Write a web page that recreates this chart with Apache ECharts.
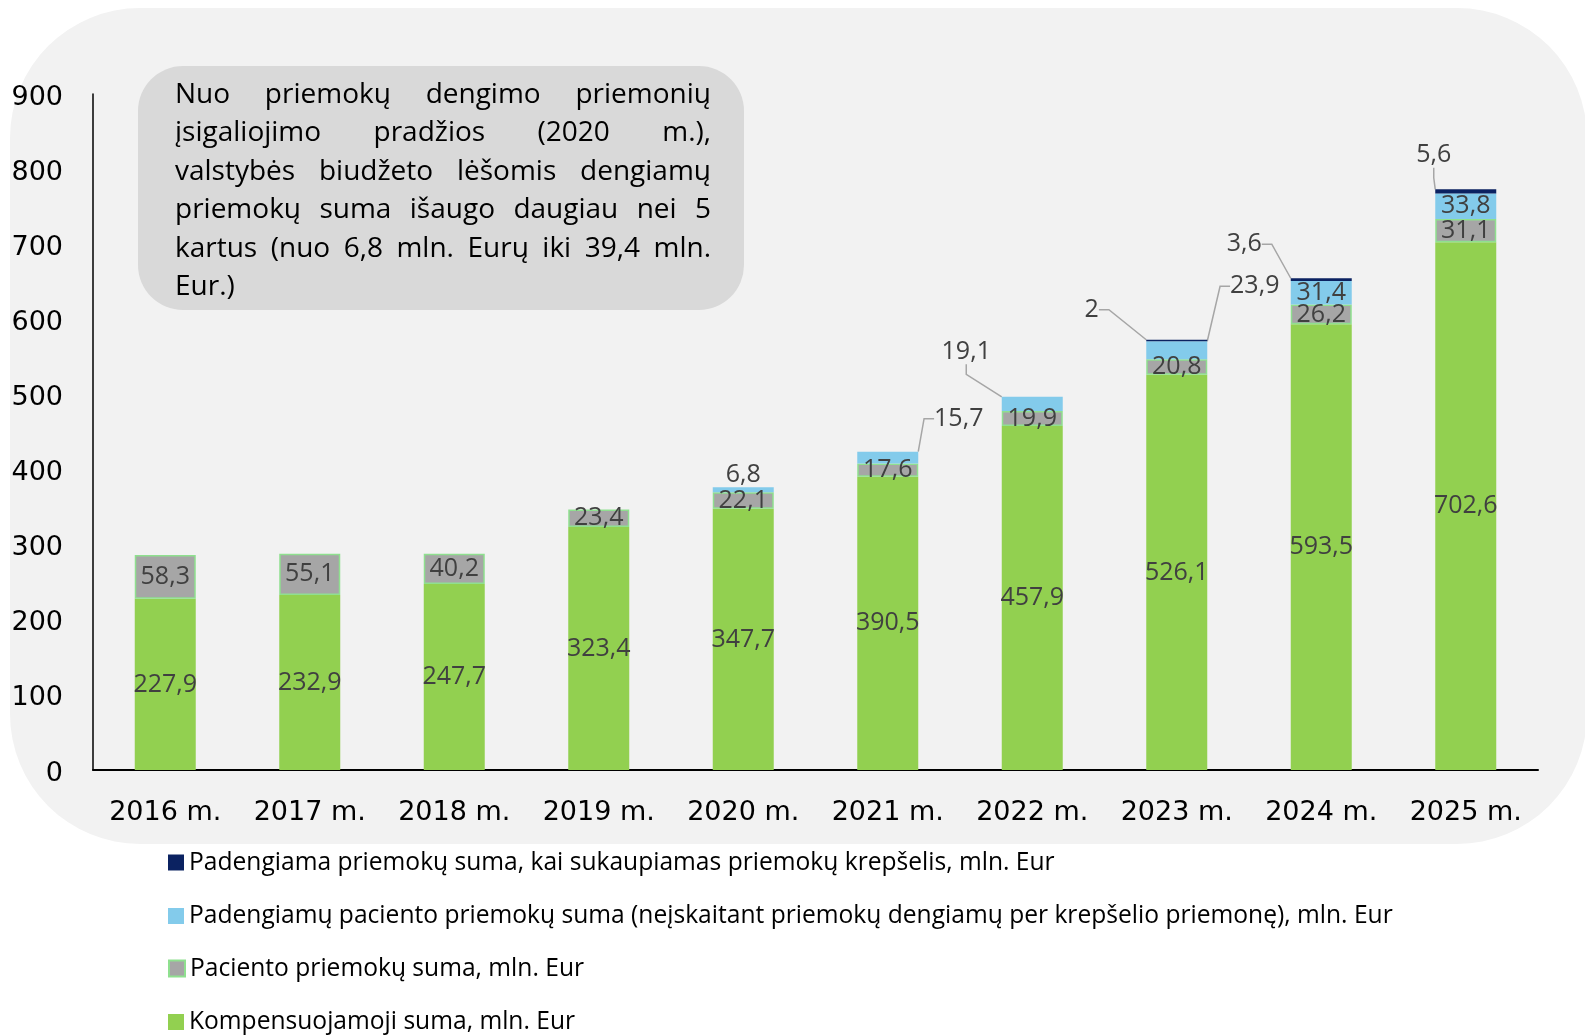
<!DOCTYPE html>
<html>
<head>
<meta charset="utf-8">
<script src="https://cdn.jsdelivr.net/npm/echarts@6/dist/echarts.min.js"></script>
<style>
html,body{margin:0;padding:0;background:#ffffff;}
#main{width:1585px;height:1035px;}
</style>
</head>
<body>
<div id="main"></div>
<script>
// ---------- data ----------
const categories = ['2016 m.', '2017 m.', '2018 m.', '2019 m.', '2020 m.', '2021 m.', '2022 m.', '2023 m.', '2024 m.', '2025 m.'];
const kompensuojamoji = [227.9, 232.9, 247.7, 323.4, 347.7, 390.5, 457.9, 526.1, 593.5, 702.6];
const pacientoPriemokos = [58.3, 55.1, 40.2, 23.4, 22.1, 17.6, 19.9, 20.8, 26.2, 31.1];
const padengiamosPriemokos = [null, null, null, null, 6.8, 15.7, 19.1, 23.9, 31.4, 33.8];
const krepselioPriemokos = [null, null, null, null, null, null, null, 2, 3.6, 5.6];
const yTickLabels = ['0', '100', '200', '300', '400', '500', '600', '700', '800', '900'];
const seriesNames = [
  'Kompensuojamoji suma, mln. Eur',
  'Paciento priemokų suma, mln. Eur',
  'Padengiamų paciento priemokų suma (neįskaitant priemokų dengiamų per krepšelio priemonę), mln. Eur',
  'Padengiama priemokų suma, kai sukaupiamas priemokų krepšelis, mln. Eur'
];
const noteLines = [
  'Nuo priemokų dengimo priemonių',
  'įsigaliojimo pradžios (2020 m.),',
  'valstybės biudžeto lėšomis dengiamų',
  'priemokų suma išaugo daugiau nei 5',
  'kartus (nuo 6,8 mln. Eurų iki 39,4 mln.',
  'Eur.)'
];

// ---------- style / layout ----------
const FONT = '"Open Sans", "Liberation Sans", sans-serif';
const AXISFONT = '"DejaVu Sans", "Open Sans", sans-serif';
const COLORS = ['#92D050', '#A6A6A6', '#83CBEB', '#0B2261'];
const labelColor = '#404040';
const fmt = v => String(v).replace('.', ',');

// label offsets (px) relative to the top-centre of the segment, for leader-line labels
const blueOffsets = {5: [71, -33], 6: [-66, -45], 7: [78, -55]};
const navyOffsets = {7: [-85, -30], 8: [-77, -34], 9: [-32, -34]};
const blueTopIdx = {4: true};

function makeLayout(offsets) {
  return function (p) {
    const o = offsets[p.dataIndex];
    if (!o) return {};
    const r = p.rect;
    const top = Math.min(r.y, r.y + r.height);
    return {x: r.x + r.width / 2 + o[0], y: top + o[1], align: 'center', verticalAlign: 'middle'};
  };
}

const baseLabel = {show: true, color: labelColor, fontSize: 25, fontFamily: FONT, padding: [4, 0, 0, 0],
  formatter: p => fmt(p.value)};

// ---------- note box (justified text) ----------
const noteBox = {x: 138, y: 66, w: 606, h: 244};
const noteTextLeft = 175, noteTextRight = 711, noteFirstY = 95, noteLineH = 38.4;
const ctx = document.createElement('canvas').getContext('2d');
let noteFs = 28;
function natW(line, fs) { ctx.font = fs + 'px ' + FONT; return ctx.measureText(line).width; }
while (noteFs > 16 && Math.max(...noteLines.map(l => natW(l, noteFs))) > noteTextRight - noteTextLeft) noteFs -= 0.25;
ctx.font = noteFs + 'px ' + FONT;
const noteFont = noteFs + 'px ' + FONT;
const noteEls = [];
noteLines.forEach((line, i) => {
  const y = noteFirstY + i * noteLineH;
  const words = line.split(' ');
  const last = i === noteLines.length - 1;
  if (last || words.length < 2) {
    noteEls.push({type: 'text', x: noteTextLeft, y: y, z: 5,
      style: {text: line, font: noteFont, fill: '#000', align: 'left', verticalAlign: 'middle', textVerticalAlign: 'middle'}});
    return;
  }
  const widths = words.map(w => ctx.measureText(w).width);
  const total = widths.reduce((a, b) => a + b, 0);
  const gap = (noteTextRight - noteTextLeft - total) / (words.length - 1);
  let x = noteTextLeft;
  words.forEach((w, k) => {
    noteEls.push({type: 'text', x: x, y: y, z: 5,
      style: {text: w, font: noteFont, fill: '#000', align: 'left', verticalAlign: 'middle', textVerticalAlign: 'middle'}});
    x += widths[k] + gap;
  });
});

// ---------- legends (one per item, stacked vertically, reversed order) ----------
const legendOrder = [3, 2, 1, 0];
const legendTops = [850, 903.5, 956, 1009.5];
const legends = legendOrder.map((s, k) => ({
  orient: 'vertical', left: 168, top: legendTops[k], padding: 0,
  itemWidth: 16, itemHeight: 16, icon: 'rect',
  data: [seriesNames[s]],
  textStyle: {fontSize: 24.6, color: '#000', fontFamily: FONT}
}));

const chart = echarts.init(document.getElementById('main'), null, {renderer: 'canvas'});
chart.setOption({
  animation: false,
  backgroundColor: '#ffffff',
  textStyle: {fontFamily: FONT},
  graphic: [
    {type: 'rect', z: -10, silent: true, shape: {x: 10, y: 8, width: 1577, height: 836, r: 130}, style: {fill: '#F2F2F2'}},
    {type: 'rect', z: -5, silent: true, shape: {x: noteBox.x, y: noteBox.y, width: noteBox.w, height: noteBox.h, r: 45}, style: {fill: '#D9D9D9'}}
  ].concat(noteEls),
  grid: {left: 93, right: 47, top: 94, bottom: 265, containLabel: false},
  legend: legends,
  xAxis: {
    type: 'category', data: categories,
    axisLine: {lineStyle: {color: '#000', width: 2}},
    axisTick: {show: false},
    axisLabel: {color: '#000', fontSize: 27, fontFamily: AXISFONT, margin: 28, lineHeight: 30, interval: 0}
  },
  yAxis: {
    type: 'value', min: 0, max: 900, interval: 100,
    axisLine: {show: true, lineStyle: {color: '#000', width: 1.5}},
    axisTick: {show: false},
    splitLine: {show: false},
    axisLabel: {color: '#000', fontSize: 27, fontFamily: AXISFONT, margin: 30,
      formatter: v => '{t|' + yTickLabels[Math.round(v / 100)] + '}',
      rich: {t: {color: '#000', fontSize: 27, fontFamily: AXISFONT, padding: [7, 0, 0, 0]}}}
  },
  series: [
    {
      name: seriesNames[0], type: 'bar', stack: 'total', barWidth: 61,
      itemStyle: {color: COLORS[0]},
      label: Object.assign({}, baseLabel, {position: 'inside'}),
      data: kompensuojamoji
    },
    {
      name: seriesNames[1], type: 'bar', stack: 'total', barWidth: 61,
      itemStyle: {color: COLORS[1], borderColor: '#8FE08F', borderWidth: 1.5},
      label: Object.assign({}, baseLabel, {position: 'inside'}),
      data: pacientoPriemokos
    },
    {
      name: seriesNames[2], type: 'bar', stack: 'total', barWidth: 61,
      itemStyle: {color: COLORS[2]},
      label: Object.assign({}, baseLabel, {position: 'inside'}),
      labelLine: {show: false, length2: 10, lineStyle: {color: '#A6A6A6', width: 1.5}},
      labelLayout: makeLayout(blueOffsets),
      data: padengiamosPriemokos.map((v, i) => {
        const item = {value: v};
        if (blueOffsets[i]) item.labelLine = {show: true};
        if (blueTopIdx[i]) item.label = {position: 'top', distance: 0};
        return item;
      })
    },
    {
      name: seriesNames[3], type: 'bar', stack: 'total', barWidth: 61,
      itemStyle: {color: COLORS[3]},
      label: Object.assign({}, baseLabel, {position: 'top'}),
      labelLine: {show: false, length2: 10, lineStyle: {color: '#A6A6A6', width: 1.5}},
      labelLayout: makeLayout(navyOffsets),
      data: krepselioPriemokos.map((v, i) => {
        const item = {value: v};
        if (navyOffsets[i]) item.labelLine = {show: true};
        return item;
      })
    }
  ]
});
</script>
</body>
</html>
